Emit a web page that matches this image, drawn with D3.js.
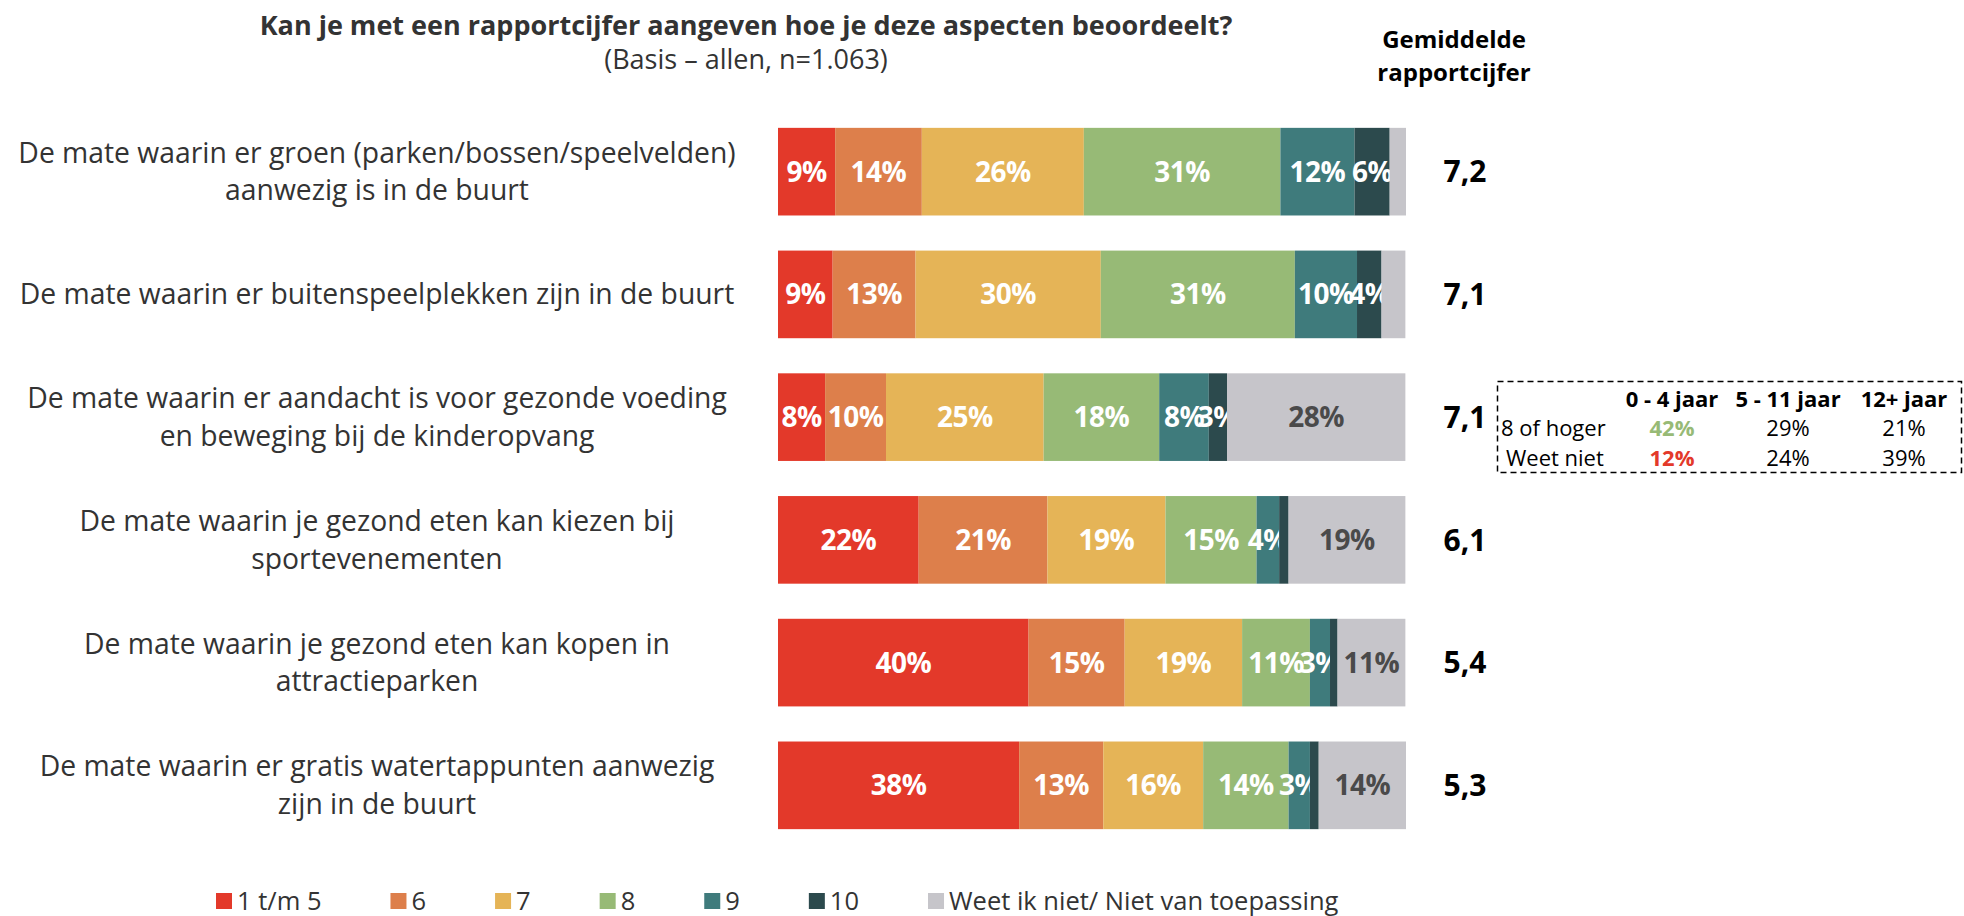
<!DOCTYPE html>
<html>
<head>
<meta charset="utf-8">
<script src="https://cdn.jsdelivr.net/npm/d3@7"></script>
<style>
  html, body { margin: 0; padding: 0; background: #fff; }
  svg { display: block; font-family: "Open Sans", Lato, "Noto Sans", sans-serif; }
</style>
</head>
<body>
<svg id="chart" width="1964" height="916"></svg>
<script>
// ---------- DATA ----------
const title = "Kan je met een rapportcijfer aangeven hoe je deze aspecten beoordeelt?";
const subtitle = "(Basis \u2013 allen, n=1.063)";
const avgHeader = ["Gemiddelde", "rapportcijfer"];

const categories = [
  ["De mate waarin er groen (parken/bossen/speelvelden)", "aanwezig is in de buurt"],
  ["De mate waarin er buitenspeelplekken zijn in de buurt"],
  ["De mate waarin er aandacht is voor gezonde voeding", "en beweging bij de kinderopvang"],
  ["De mate waarin je gezond eten kan kiezen bij", "sportevenementen"],
  ["De mate waarin je gezond eten kan kopen in", "attractieparken"],
  ["De mate waarin er gratis watertappunten aanwezig", "zijn in de buurt"]
];

const seriesNames = ["1 t/m 5", "6", "7", "8", "9", "10", "Weet ik niet/ Niet van toepassing"];

// percentages per series (one value per category, top to bottom)
const s1to5 = [9.1, 8.7, 7.5, 22.4, 39.9, 38.4];
const s6    = [13.8, 13.2, 9.7, 20.5, 15.3, 13.4];
const s7    = [25.8, 29.5, 25.1, 18.8, 18.7, 15.9];
const s8    = [31.3, 30.9, 18.4, 14.5, 10.8, 13.6];
const s9    = [11.8, 9.9, 7.9, 3.6, 3.2, 3.4];
const s10   = [5.6, 3.9, 2.9, 1.5, 1.2, 1.4];
const sNA   = [2.6, 3.8, 28.4, 18.6, 10.8, 13.9];

const averages = ["7,2", "7,1", "7,1", "6,1", "5,4", "5,3"];

// inset table
const tableCols = ["0 - 4 jaar", "5 - 11 jaar", "12+ jaar"];
const tableRowLabels = ["8 of hoger", "Weet niet"];
const row8plus = ["42%", "29%", "21%"];
const rowWeetNiet = ["12%", "24%", "39%"];

// ---------- STYLE ----------
const colors = ["#E3392A", "#DD7F4B", "#E5B457", "#97BA76", "#3F7B7C", "#2C4A4D", "#C6C5CA"];
const labelColors = ["#fff", "#fff", "#fff", "#fff", "#fff", "#fff", "#4a4a4a"];
const minLabel = [2.5, 2.5, 2.5, 2.5, 2.5, 2.5, 5];
const textColor = "#333333";

const svg = d3.select("#chart");

const seriesData = [s1to5, s6, s7, s8, s9, s10, sNA];
const rows = categories.map((c, i) => {
  const o = { idx: i };
  seriesData.forEach((s, k) => o["k" + k] = s[i]);
  return o;
});
const keys = seriesData.map((_, k) => "k" + k);
const stacked = d3.stack().keys(keys)(rows);

const x = d3.scaleLinear().domain([0, 100]).range([778, 1406]);
const y = d3.scaleBand().domain(d3.range(categories.length))
  .range([110.3, 846.7]).paddingInner(0.286).paddingOuter(0.143);

// ---------- TITLE ----------
svg.append("text").attr("x", 746).attr("y", 26).attr("dy", "0.35em")
  .attr("text-anchor", "middle").attr("font-size", 27).attr("font-weight", 700)
  .attr("fill", textColor).text(title);
svg.append("text").attr("x", 746).attr("y", 60).attr("dy", "0.35em")
  .attr("text-anchor", "middle").attr("font-size", 27)
  .attr("fill", textColor).text(subtitle);

// header for averages
avgHeader.forEach((t, i) => {
  svg.append("text").attr("x", 1454).attr("y", 40 + i * 33).attr("dy", "0.35em")
    .attr("text-anchor", "middle").attr("font-size", 24).attr("font-weight", 700)
    .attr("fill", "#000").text(t);
});

// ---------- BARS ----------
const g = svg.append("g");
stacked.forEach((layer, k) => {
  const lg = g.append("g").attr("fill", colors[k]);
  lg.selectAll("rect").data(layer).enter().append("rect")
    .attr("x", d => x(d[0]))
    .attr("y", (d, i) => y(i))
    .attr("width", d => x(d[1]) - x(d[0]))
    .attr("height", y.bandwidth());
  lg.selectAll("text").data(layer.filter(d => (d[1] - d[0]) >= minLabel[k])).enter().append("text")
    .attr("x", d => (x(d[0]) + x(d[1])) / 2)
    .attr("y", d => y(d.data.idx) + y.bandwidth() / 2)
    .attr("dy", "0.36em")
    .attr("text-anchor", "middle")
    .attr("font-size", 28).attr("font-weight", 700)
    .attr("letter-spacing", -0.5)
    .attr("fill", labelColors[k])
    .text(d => Math.round(d[1] - d[0]) + "%");
});

// ---------- CATEGORY LABELS ----------
const lineH = 37.5;
categories.forEach((lines, i) => {
  const cy = y(i) + y.bandwidth() / 2;
  const t = svg.append("text").attr("text-anchor", "middle")
    .attr("font-size", 28.3).attr("fill", textColor);
  lines.forEach((ln, j) => {
    t.append("tspan").attr("x", 377)
      .attr("y", cy + (j - (lines.length - 1) / 2) * lineH)
      .attr("dy", "0.35em").text(ln);
  });
});

// ---------- AVERAGES ----------
averages.forEach((a, i) => {
  svg.append("text").attr("x", 1465).attr("y", y(i) + y.bandwidth() / 2)
    .attr("dy", "0.36em").attr("text-anchor", "middle")
    .attr("font-size", 30).attr("font-weight", 700).attr("fill", "#000").text(a);
});

// ---------- INSET TABLE ----------
const tb = svg.append("g");
tb.append("rect").attr("x", 1497.5).attr("y", 381.5).attr("width", 464).attr("height", 91)
  .attr("fill", "none").attr("stroke", "#000").attr("stroke-width", 1.5)
  .attr("stroke-dasharray", "6,4");
const colX = [1672, 1788, 1904];
const rowY = [399, 428, 458];
tableCols.forEach((c, j) => {
  tb.append("text").attr("x", colX[j]).attr("y", rowY[0]).attr("dy", "0.35em")
    .attr("text-anchor", "middle").attr("font-size", 22).attr("font-weight", 700)
    .attr("fill", "#000").text(c);
});
const tableRows = [row8plus, rowWeetNiet];
const highlight = [["#97BA76", null, null], ["#E3392A", null, null]];
tableRowLabels.forEach((lab, r) => {
  tb.append("text").attr("x", r === 0 ? 1501 : 1506).attr("y", rowY[r + 1]).attr("dy", "0.35em")
    .attr("font-size", 22).attr("fill", "#000").text(lab);
  tableRows[r].forEach((v, j) => {
    tb.append("text").attr("x", colX[j]).attr("y", rowY[r + 1]).attr("dy", "0.35em")
      .attr("text-anchor", "middle").attr("font-size", 22)
      .attr("font-weight", highlight[r][j] ? 700 : 400)
      .attr("fill", highlight[r][j] || "#000").text(v);
  });
});

// ---------- LEGEND ----------
const lgd = svg.append("g");
let lx = 216;
const ly = 901;
seriesNames.forEach((n, k) => {
  lgd.append("rect").attr("x", lx).attr("y", ly - 8).attr("width", 16).attr("height", 16)
    .attr("fill", colors[k]);
  const t = lgd.append("text").attr("x", lx + 21).attr("y", ly).attr("dy", "0.35em")
    .attr("font-size", 25.5).attr("fill", textColor).text(n);
  lx += 21 + t.node().getComputedTextLength() + 69;
});
</script>
</body>
</html>
